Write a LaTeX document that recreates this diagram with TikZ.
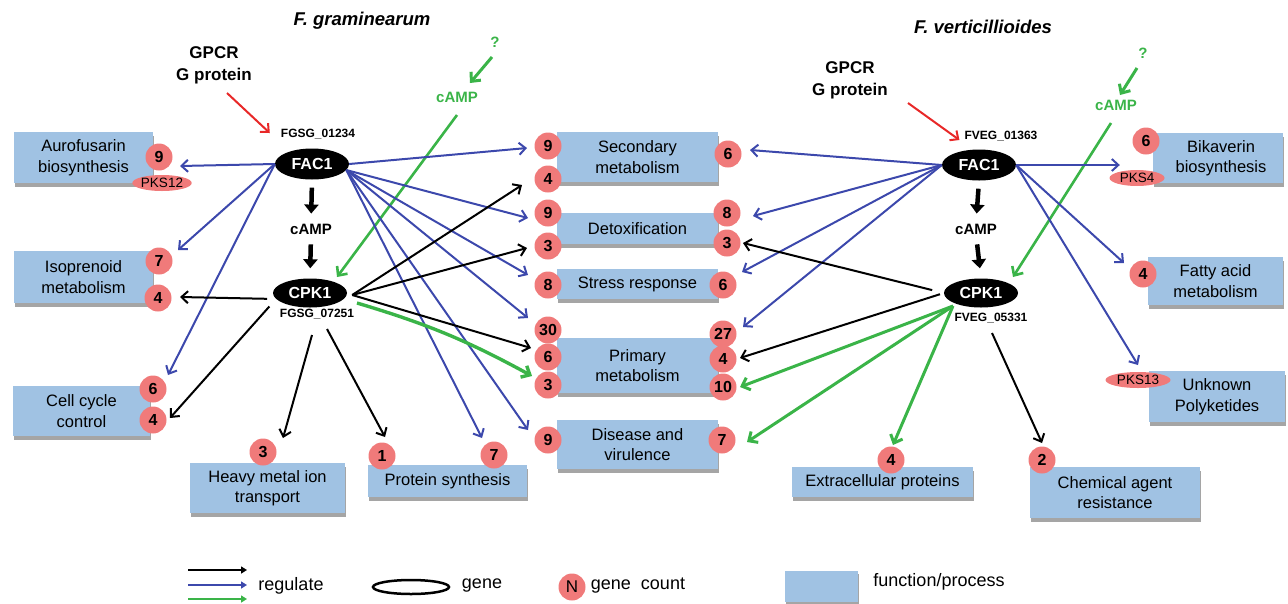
\documentclass[tikz,border=0pt]{standalone}
\usepackage{fontspec}
\setmainfont{Liberation Sans}
\usetikzlibrary{shapes.geometric,arrows.meta,shadows,calc}
\definecolor{boxblue}{RGB}{160,194,227}
\definecolor{badgered}{RGB}{240,122,122}
\definecolor{regblue}{RGB}{60,72,172}
\definecolor{reggreen}{RGB}{58,180,72}
\definecolor{arrred}{RGB}{232,40,40}
\begin{document}
\begin{tikzpicture}[x=1pt,y=-1pt,
  fbox/.style={fill=boxblue, inner sep=0pt, align=center,
    font=\fontsize{16.5pt}{20.5pt}\selectfont,
    drop shadow={shadow xshift=1pt, shadow yshift=-3.5pt, fill=black!70, opacity=0.5}},
  badge/.style={circle, fill=badgered, minimum size=27pt, inner sep=0pt,
    font=\bfseries\fontsize{16pt}{16pt}\selectfont},
  pks/.style={ellipse, fill=badgered, inner sep=0pt, minimum height=16pt,
    font=\fontsize{13.5pt}{14pt}\selectfont},
  gene/.style={ellipse, fill=black, text=white, inner sep=0pt, minimum width=74pt,
    minimum height=31pt, font=\bfseries\fontsize{16pt}{16pt}\selectfont},
  gid/.style={inner sep=0pt, font=\bfseries\fontsize{12pt}{12pt}\selectfont},
  camp/.style={inner sep=0pt, font=\bfseries\fontsize{15pt}{15pt}\selectfont},
  gcamp/.style={inner sep=0pt, text=reggreen, font=\bfseries\fontsize{15pt}{15pt}\selectfont},
  gp/.style={inner sep=0pt, align=center, font=\bfseries\fontsize{17pt}{22pt}\selectfont},
  ttl/.style={inner sep=0pt, font=\bfseries\itshape\fontsize{18.5pt}{20pt}\selectfont},
  legtext/.style={inner sep=0pt, font=\fontsize{18pt}{20pt}\selectfont},
  blu/.style={draw=regblue, line width=2pt, -{Straight Barb[length=6.5pt,width=12pt]}},
  blk/.style={draw=black, line width=2pt, -{Straight Barb[length=6.5pt,width=12pt]}},
  grn/.style={draw=reggreen, line width=3pt, -{Straight Barb[length=7pt,width=13pt]}},
  rdar/.style={draw=arrred, line width=2pt, -{Straight Barb[length=6.5pt,width=12pt]}},
  thk/.style={draw=black, line width=4.5pt, -{Triangle[length=9pt,width=14pt]}},
  legar/.style={line width=2pt, -{Triangle[length=6pt,width=7pt]}}
]
\useasboundingbox (0,0) rectangle (1288,603);

% titles
\node[ttl] (t1) at (362,21) {F. graminearum};
\node[ttl] (t2) at (983,27) {F. verticillioides};
\node[gp] (gp1) at (214,65) {GPCR\\G protein};
\node[gp] (gp2) at (850,80) {GPCR\\G protein};

% function boxes
\node[fbox, minimum width=139pt, minimum height=51pt] (auro) at (83.5,157.5) {Aurofusarin\\biosynthesis};
\node[fbox, minimum width=139pt, minimum height=52pt] (iso) at (83.5,277) {Isoprenoid\\metabolism};
\node[fbox, minimum width=137pt, minimum height=50pt] (cell) at (81.5,411) {Cell cycle\\control};
\node[fbox, minimum width=155pt, minimum height=50pt] (heavy) at (267.5,488) {Heavy metal ion\\transport};
\node[fbox, minimum width=159pt, minimum height=32pt] (prot) at (447.5,481) {Protein synthesis};
\node[fbox, minimum width=161pt, minimum height=50pt] (sec) at (637.5,157) {Secondary\\metabolism};
\node[fbox, minimum width=161pt, minimum height=31pt] (detox) at (637.5,228.5) {Detoxification};
\node[fbox, minimum width=161pt, minimum height=30pt] (stress) at (637.5,284) {Stress response};
\node[fbox, minimum width=161pt, minimum height=55pt] (prim) at (637.5,365.5) {Primary\\metabolism};
\node[fbox, minimum width=161pt, minimum height=49pt] (dis) at (637.5,444.5) {Disease and\\virulence};
\node[fbox, minimum width=181pt, minimum height=30pt] (extra) at (882.5,482) {Extracellular proteins};
\node[fbox, minimum width=170pt, minimum height=51pt] (chem) at (1115,492.5) {Chemical agent\\resistance};
\node[fbox, minimum width=130pt, minimum height=50pt] (bika) at (1218,158) {\hspace*{6pt}Bikaverin\\\hspace*{6pt}biosynthesis};
\node[fbox, minimum width=135pt, minimum height=48pt] (fatty) at (1215.5,281) {Fatty acid\\metabolism};
\node[fbox, minimum width=136pt, minimum height=51pt] (unk) at (1217,396.5) {Unknown\\Polyketides};

% gene count badges
\node[badge] (a9) at (159,157) {9};
\node[pks, minimum width=55pt] (pks12) at (162,183) {PKS12};
\node[badge] (iso7) at (159,261) {7};
\node[badge] (iso4) at (158,298) {4};
\node[badge] (cc6) at (153,389) {6};
\node[badge] (cc4) at (153,420) {4};
\node[badge] (hm3) at (263,452) {3};
\node[badge] (ps1) at (382,456) {1};
\node[badge] (ps7) at (494,455) {7};
\node[badge] (sec9) at (548,146) {9};
\node[badge] (sec4) at (548,179) {4};
\node[badge] (sec6) at (728,154) {6};
\node[badge] (det9) at (548,213) {9};
\node[badge] (det3) at (548,246) {3};
\node[badge] (det8) at (727,213) {8};
\node[badge] (det3r) at (727,243) {3};
\node[badge] (str8) at (548,285) {8};
\node[badge] (str6) at (723,285) {6};
\node[badge] (pr30) at (548,330) {30};
\node[badge] (pr6) at (548,357) {6};
\node[badge] (pr3) at (548,385) {3};
\node[badge] (pr27) at (723,334) {27};
\node[badge] (pr4) at (723,359) {4};
\node[badge] (pr10) at (723,387) {10};
\node[badge] (dis9) at (548,440) {9};
\node[badge] (dis7) at (722,440) {7};
\node[badge] (ext4) at (891,460) {4};
\node[badge] (chem2) at (1042,460) {2};
\node[badge] (bik6) at (1146,141) {6};
\node[pks, minimum width=55pt] (pks4) at (1137,178) {PKS4};
\node[badge] (fat4) at (1143,274) {4};
\node[pks, minimum width=65pt] (pks13) at (1138,380) {PKS13};

% genes
\node[gene] (lfac) at (312,164) {FAC1};
\node[gene, minimum height=29pt] (lcpk) at (310,293) {CPK1};
\node[gene] (rfac) at (979,165) {FAC1};
\node[gene, minimum height=29pt] (rcpk) at (981,293) {CPK1};
\node[gid] (fg1) at (318,134) {FGSG\_01234};
\node[gid] (fg2) at (317,314) {FGSG\_07251};
\node[gid] (fv1) at (1001,136) {FVEG\_01363};
\node[gid] (fv2) at (991,318) {FVEG\_05331};
\node[camp] (lcamp) at (311,229) {cAMP};
\node[camp] (rcamp) at (976,229) {cAMP};
\node[gcamp] (lq) at (495,42) {?};
\node[gcamp] (lgcamp) at (457,97) {cAMP};
\node[gcamp] (rq) at (1143,53) {?};
\node[gcamp] (rgcamp) at (1116,105) {cAMP};

% thick cascade arrows
\draw[thk, shorten <=8pt, shorten >=10pt] (lfac.south) -- (lcamp.north);
\draw[thk, shorten <=10pt, shorten >=10pt] (lcamp.south) -- (lcpk.north);
\draw[thk, shorten <=8pt, shorten >=10pt] (rfac.south) -- (rcamp.north);
\draw[thk, shorten <=10pt, shorten >=10pt] (rcamp.south) -- (rcpk.north);

% red
\draw[rdar] ($(gp1)+(13,28)$) -- ($(fg1.west)+(-11,-1)$);
\draw[rdar] ($(gp2)+(58,23)$) -- ($(fv1.west)+(-5,4)$);

% green cAMP inputs
\draw[grn] ($(lq)+(-3,15)$) -- ($(lgcamp)+(13,-14)$);
\draw[grn, line width=2.6pt] ($(lgcamp)+(0,18)$) -- ($(lcpk)+(27,-16)$);
\draw[grn] ($(rq)+(-6,15)$) -- ($(rgcamp)+(4,-10)$);
\draw[grn, line width=2.6pt] ($(rgcamp)+(-5,18)$) -- ($(rcpk)+(32,-16)$);

% left FAC1
\draw[blu] (lfac.west) -- ($(a9)+(21,9)$);
\draw[blu] (lfac.west) -- ($(iso7)+(19,-11)$);
\draw[blu] (lfac.west) -- ($(cc6)+(15,-14)$);
\draw[blu] (lfac.east) -- ($(sec9)+(-21,2)$);
\draw[blu] (lfac.-10) -- ($(det9)+(-20,5)$);
\draw[blu] (lfac.-10) -- ($(str8)+(-20,-10)$);
\draw[blu] (lfac.-10) -- ($(pr30)+(-20,-12)$);
\draw[blu] (lfac.-10) -- ($(dis9)+(-20,-10)$);
\draw[blu] (lfac.-10) -- ($(ps7)+(-12,-17)$);

% left CPK1
\draw[blk, shorten <=9pt] (lcpk.190) -- ($(iso4)+(22,-1)$);
\draw[blk, shorten <=10pt] (lcpk.190) -- ($(cc4)+(17,-2)$);
\draw[blk] ($(lcpk.east)+(5,2)$) -- ($(sec4)+(-26,6)$);
\draw[blk] ($(lcpk.east)+(5,2)$) -- ($(det3)+(-21,2)$);
\draw[blk] ($(lcpk.east)+(5,2)$) -- ($(pr6)+(-17,-9)$);
\draw[grn, line width=3.4pt] ($(lcpk)+(47,10)$) to[bend left=6] ($(pr3)+(-16,-9)$);
\draw[blk] ($(lcpk)+(2,42)$) -- ($(hm3)+(20,-14)$);
\draw[blk] ($(lcpk)+(17,36)$) -- ($(ps1)+(3,-19)$);

% right FAC1
\draw[blu] (rfac.west) -- ($(sec6)+(22,-4)$);
\draw[blu] (rfac.west) -- ($(det8)+(26,3)$);
\draw[blu] (rfac.west) -- ($(str6)+(19,-13)$);
\draw[blu] (rfac.west) -- ($(pr27)+(20,-7)$);
\draw[blu] (rfac.east) -- ($(bika.west)+(-33,7)$);
\draw[blu] (rfac.east) -- ($(fat4)+(-19,-11)$);
\draw[blu] (rfac.east) -- ($(pks13)+(0,-15)$);

% right CPK1
\draw[blk, shorten <=12pt] (rcpk.west) -- ($(det3r)+(16,0)$);
\draw[blk, shorten <=4pt] (rcpk.west) -- ($(pr4)+(17,-1)$);
\draw[grn] ($(rcpk)+(-28,13)$) -- ($(pr10)+(17,0)$);
\draw[grn] ($(rcpk)+(-28,13)$) -- ($(dis7)+(25,2)$);
\draw[grn] ($(rcpk)+(-28,13)$) -- ($(ext4)+(2,-15)$);
\draw[blk] ($(rcpk)+(11,40)$) -- ($(chem2)+(0,-17)$);

% legend
\coordinate (la1) at (188,570); \coordinate (la2) at (247,570);
\coordinate (lb1) at (188,585); \coordinate (lb2) at (247,585);
\coordinate (lc1) at (188,599); \coordinate (lc2) at (247,599);
\draw[legar, black] (la1) -- (la2);
\draw[legar, regblue] (lb1) -- (lb2);
\draw[legar, reggreen] (lc1) -- (lc2);
\node[legtext] (lreg) at (291,586) {regulate};
\node[ellipse, draw=black, line width=2.5pt, minimum width=76pt, minimum height=14pt, inner sep=0pt] (lgene) at (411,587) {};
\node[legtext] (lgt) at (482,586) {gene};
\node[circle, fill=badgered, minimum size=27pt, inner sep=0pt, font=\fontsize{17pt}{17pt}\selectfont] (lN) at (572,587) {N};
\node[legtext] (lgc) at (638,586) {gene\ \ count};
\node[fill=boxblue, minimum width=73pt, minimum height=31pt, inner sep=0pt,
  drop shadow={shadow xshift=1pt, shadow yshift=-3pt, fill=black!70, opacity=0.5}] (lbox) at (821.5,586) {};
\node[legtext] (lfp) at (939,582) {function/process};
\end{tikzpicture}
\end{document}
